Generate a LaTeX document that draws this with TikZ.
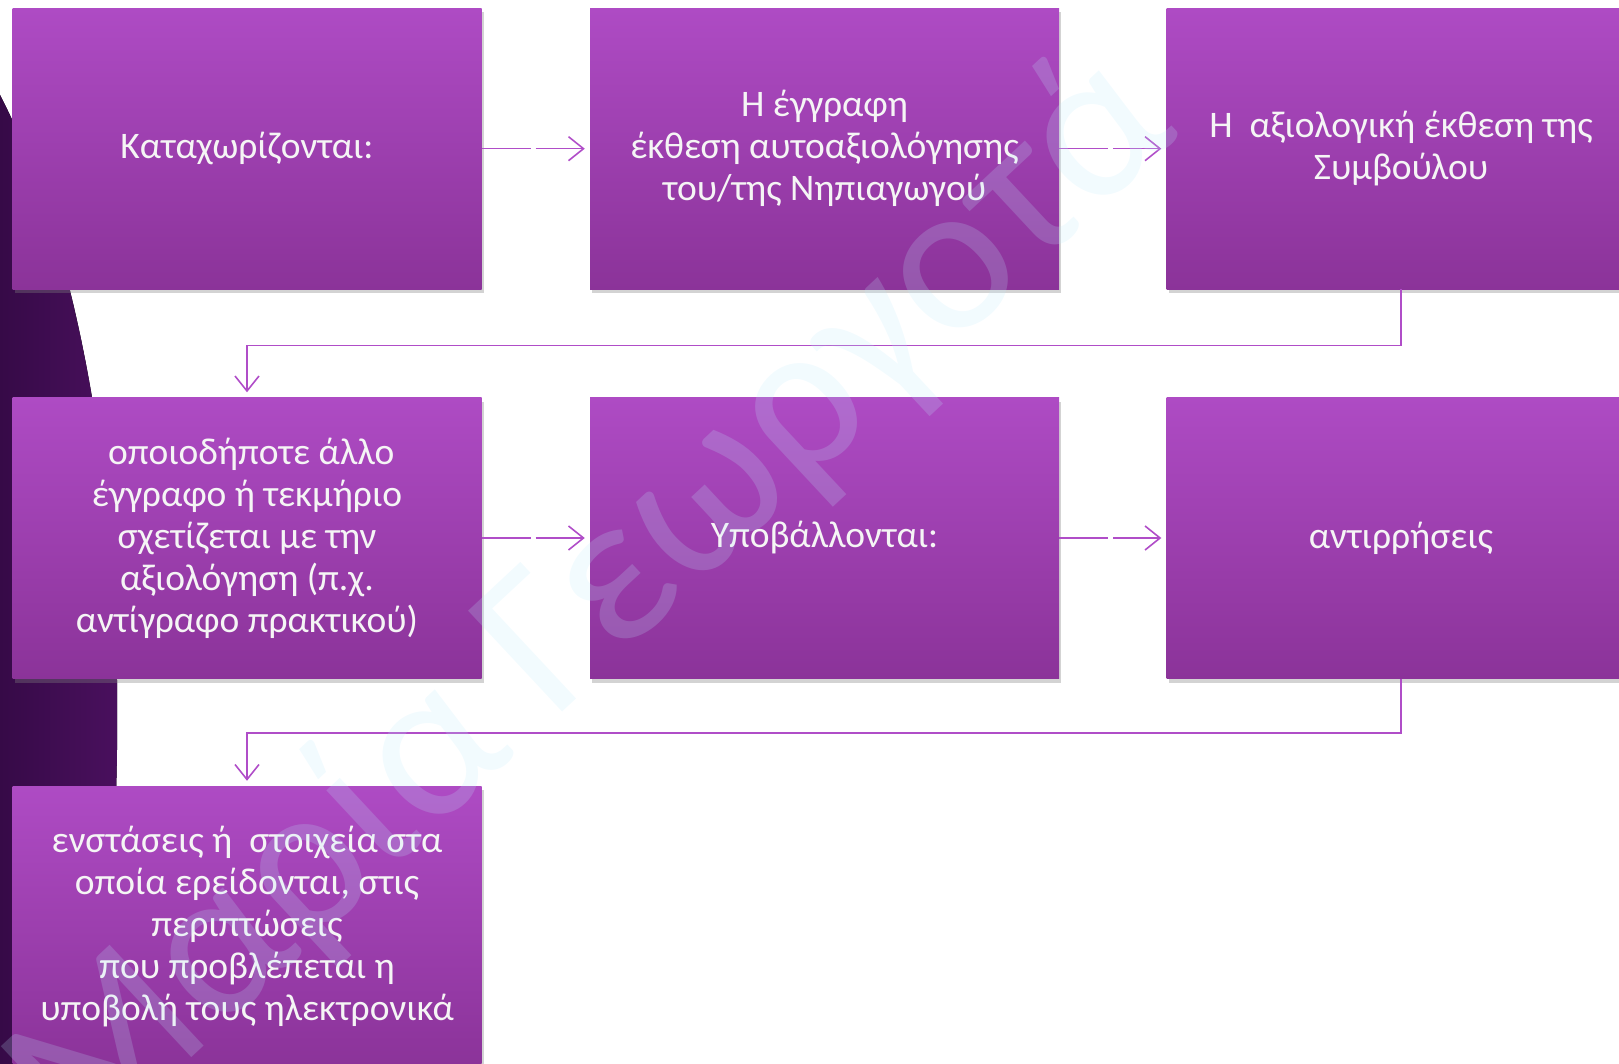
\documentclass[tikz,border=0pt]{standalone}
\usepackage{fontspec}
\setmainfont{Carlito}
\usetikzlibrary{arrows.meta, shadows}

\definecolor{boxtop}{HTML}{AE4BC4}
\definecolor{boxbot}{HTML}{8B3399}
\definecolor{linkcol}{HTML}{B04DC8}
\definecolor{darkleft}{HTML}{360A47}
\definecolor{darkright}{HTML}{4A105E}

\tikzset{
  stepbox/.style={rectangle, top color=boxtop, bottom color=boxbot,
    minimum width=469pt, minimum height=281pt, inner sep=0pt,
    text=white!96!black, align=center, font=\fontsize{37.5}{42}\selectfont,
    drop shadow={shadow xshift=2pt, shadow yshift=-4pt, opacity=0.35}},
  link/.style={draw=linkcol, line width=1.6pt,
    -{Straight Barb[length=15pt,width=24pt,line width=1.6pt]}, shorten >=5pt},
  gapped/.style={dash pattern=on 49pt off 5pt on 400pt},
  watermark/.style={text=cyan!25!white, text opacity=0.2,
    font=\fontsize{215}{215}\selectfont, inner sep=0pt}
}

\begin{document}
\begin{tikzpicture}[x=1pt, y=-1pt]
      \useasboundingbox (0,0) rectangle (1619,1064);
      % dark shape on the left
      \fill[left color=darkleft, right color=darkright] (0,95) .. controls (70,230) and (114,450) .. (117,680)
        .. controls (119,820) and (108,960) .. (102,1064) -- (0,1064) -- cycle;
      % first row
      \node[stepbox] (b1) at (247,148.7) {Καταχωρίζονται:};
      \node[stepbox] (b2) at (824.5,148.7) {Η έγγραφη\\έκθεση αυτοαξιολόγησης\\του/της Νηπιαγωγού};
      \node[stepbox] (b3) at (1401,148.7) {Η\ \ αξιολογική έκθεση της\\Συμβούλου};
      % second row
      \node[stepbox] (b4) at (247,538) {\ οποιοδήποτε άλλο\\έγγραφο ή τεκμήριο\\σχετίζεται με την\\αξιολόγηση (π.χ.\\αντίγραφο πρακτικού)};
      \node[stepbox] (b5) at (824.5,538) {Υποβάλλονται:};
      \node[stepbox] (b6) at (1401,538) {αντιρρήσεις};
      % third row
      \node[stepbox] (b7) at (247,926.5) {ενστάσεις ή\ \ στοιχεία στα\\οποία ερείδονται, στις\\περιπτώσεις\\που προβλέπεται η\\υποβολή τους ηλεκτρονικά};
      % horizontal lines
      \draw[link, gapped] (b1) -- (b2);
      \draw[link, gapped] (b2) -- (b3);
      \draw[link, gapped] (b4) -- (b5);
      \draw[link, gapped] (b5) -- (b6);
      % row to row
      \draw[link] (b3.south) -- ++(0,56) -| (b4.north);
      \draw[link] (b6.south) -- ++(0,54) -| (b7.north);
      % watermark
      \node[watermark, anchor=base west, rotate=43] (wm) at (82,1160) {Μαρία Γεωργοτά};
\end{tikzpicture}
\end{document}
